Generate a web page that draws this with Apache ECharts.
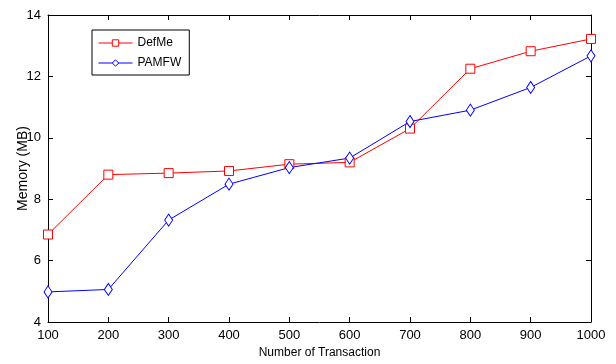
<!DOCTYPE html>
<html>
<head>
<meta charset="utf-8">
<script src="https://cdn.jsdelivr.net/npm/echarts@6/dist/echarts.min.js"></script>
<style>
  html, body { margin: 0; padding: 0; background: #fff; }
  #chart { width: 616px; height: 364px; }
</style>
</head>
<body>
<div id="chart"></div>
<script>
const transactions = [100, 200, 300, 400, 500, 600, 700, 800, 900, 1000]
const defMe = [6.85, 8.8, 8.85, 8.92, 9.14, 9.2, 10.3, 12.25, 12.82, 13.22]
const pamfw = [4.98, 5.06, 7.32, 8.49, 9.03, 9.34, 10.53, 10.9, 11.64, 12.67]

const font = "'Liberation Sans Narrow', 'Liberation Sans', Arial, sans-serif"

const chart = echarts.init(document.getElementById("chart"))

const boxAxis = {
  axisLine: { show: true, lineStyle: { color: "#000", width: 1 } },
  axisTick: { show: true, inside: true, length: 5, lineStyle: { color: "#000" } },
  splitLine: { show: false },
}

function makeSeries(name, values, color, symbol, size) {
  return {
    name: name,
    type: "line",
    color: color,
    data: transactions.map((t, i) => [t, values[i]]),
    symbol: symbol,
    symbolSize: size,
    lineStyle: { color: color, width: 1 },
    itemStyle: { color: "#fff", borderColor: color, borderWidth: 1 },
    emphasis: { disabled: true },
    animation: false,
  }
}

const option = {
  backgroundColor: "#fff",
  textStyle: { fontFamily: font },
  grid: { left: 48, right: 25, top: 15, bottom: 38 },
  legend: {
    orient: "vertical",
    left: 92,
    top: 30,
    padding: [7, 8, 6, 6],
    itemWidth: 34,
    itemHeight: 8,
    itemGap: 8,
    borderColor: "#000",
    borderWidth: 1,
    lineStyle: { width: 1 },
    itemStyle: { borderWidth: 1 },
    textStyle: { fontFamily: font, fontSize: 12, color: "#000" },
    data: ["DefMe", "PAMFW"],
  },
  xAxis: [
    Object.assign({
      type: "value",
      min: 100,
      max: 1000,
      interval: 100,
      name: "Number of Transaction",
      nameLocation: "middle",
      nameGap: 25,
      nameMoveOverlap: false,
      nameTextStyle: { fontFamily: font, fontSize: 12, color: "#000" },
      axisLabel: { color: "#000", fontSize: 13, margin: 7, fontFamily: font, formatter: (v) => String(v) },
    }, boxAxis),
    Object.assign({
      type: "value",
      position: "top",
      min: 100,
      max: 1000,
      interval: 100,
      axisLabel: { show: false },
    }, boxAxis),
  ],
  yAxis: [
    Object.assign({
      type: "value",
      min: 4,
      max: 14,
      interval: 2,
      name: "Memory (MB)",
      nameLocation: "middle",
      nameGap: 18,
      nameMoveOverlap: false,
      nameTextStyle: { fontFamily: font, fontSize: 14, color: "#000" },
      axisLabel: { color: "#000", fontSize: 13, margin: 7, fontFamily: font },
    }, boxAxis),
    Object.assign({
      type: "value",
      position: "right",
      min: 4,
      max: 14,
      interval: 2,
      axisLabel: { show: false },
    }, boxAxis),
  ],
  series: [
    makeSeries("DefMe", defMe, "#ff0000", "rect", 9),
    makeSeries("PAMFW", pamfw, "#0000ff", "diamond", [8, 12]),
  ],
}

chart.setOption(option)
</script>
</body>
</html>
